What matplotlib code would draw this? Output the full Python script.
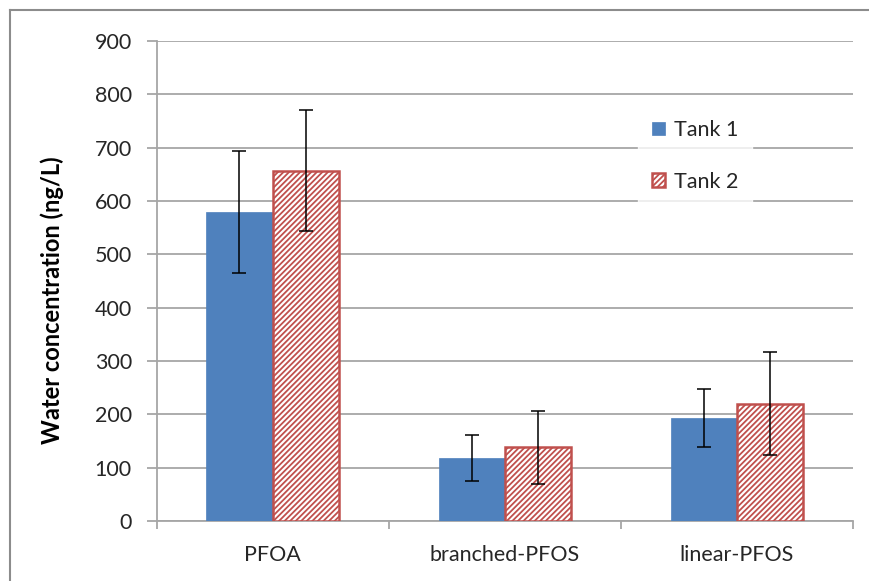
import matplotlib
matplotlib.use("Agg")
import matplotlib.pyplot as plt
import numpy as np
from matplotlib.lines import Line2D

plt.rcParams['font.family'] = ['Lato', 'DejaVu Sans']
plt.rcParams['hatch.linewidth'] = 1.3

categories = ["PFOA", "branched-PFOS", "linear-PFOS"]
tank1 = [579, 118, 193]
tank1_err = [114, 43, 54]
tank2 = [657, 138, 220]
tank2_err = [114, 68, 97]
series_names = ["Tank 1", "Tank 2"]
yticks = [0, 100, 200, 300, 400, 500, 600, 700, 800, 900]

blue = "#4F81BD"
red = "#C0504D"
grid = "#A6A6A6"
txt = "#262626"
FS = 15.5

W, H = 869, 581
fig = plt.figure(figsize=(W/100, H/100), dpi=100)
ax = fig.add_axes([156.5/W, 1-521/H, (853-156.5)/W, (521-41)/H])

x = np.arange(len(categories))
w = 0.285
ax.bar(x - w/2, tank1, w, color=blue, edgecolor=blue, linewidth=0.5, zorder=3,
       label=series_names[0])
ax.bar(x + w/2, tank2, w, color="white", edgecolor=red, hatch="//////",
       linewidth=1.8, zorder=3, label=series_names[1])
ax.errorbar(x - w/2, tank1, yerr=tank1_err, fmt="none", ecolor="black",
            elinewidth=1.1, capsize=4.7, capthick=1.1, zorder=4)
ax.errorbar(x + w/2, tank2, yerr=tank2_err, fmt="none", ecolor="black",
            elinewidth=1.1, capsize=4.7, capthick=1.1, zorder=4)

ax.set_xlim(-0.5, len(categories) - 0.5)
ax.set_ylim(0, 900)
ax.set_yticks(yticks)
ax.set_yticklabels([str(v) for v in yticks], fontsize=FS, color=txt)
ax.yaxis.grid(True, color=grid, linewidth=1.3, zorder=0)
ax.set_axisbelow(True)

# category ticks at boundaries
ax.set_xticks(np.arange(-0.5, len(categories), 1.0))
ax.set_xticklabels([])
ax.set_xticks(x, minor=True)
ax.set_xticklabels(categories, minor=True, fontsize=FS, color=txt)
ax.tick_params(axis="x", which="minor", length=0, pad=17)
ax.tick_params(axis="x", which="major", length=5.8, color=grid, width=1.3)
ax.tick_params(axis="y", length=7.2, color=grid, width=1.3, pad=10.5)

for s in ["top", "right"]:
    ax.spines[s].set_visible(False)
for s in ["left", "bottom"]:
    ax.spines[s].set_color(grid)
    ax.spines[s].set_linewidth(1.3)

fig.text(52/W, 1-300/H, "Water concentration (ng/L)", rotation=90,
         fontsize=17, fontweight="bold", color="black", ha="center", va="center")

leg = fig.legend(loc="upper left", bbox_to_anchor=(638/W, 1-106/H),
                 bbox_transform=fig.transFigure,
                 frameon=True, fontsize=FS, handlelength=0.6, handleheight=0.6,
                 handletextpad=0.4, labelspacing=1.48, borderpad=0.65, fancybox=False,
                 borderaxespad=0)
leg.get_frame().set_facecolor("white")
leg.get_frame().set_edgecolor("white")
for t in leg.get_texts():
    t.set_color(txt)

# chart border (top and left visible)
fig.add_artist(Line2D([10/W, 10/W], [0, 1-10/H], color="#8C8C8C", linewidth=1.5,
                      transform=fig.transFigure))
fig.add_artist(Line2D([10/W, 1], [1-10/H, 1-10/H], color="#8C8C8C", linewidth=1.5,
                      transform=fig.transFigure))

fig.savefig("out.png", dpi=100)
